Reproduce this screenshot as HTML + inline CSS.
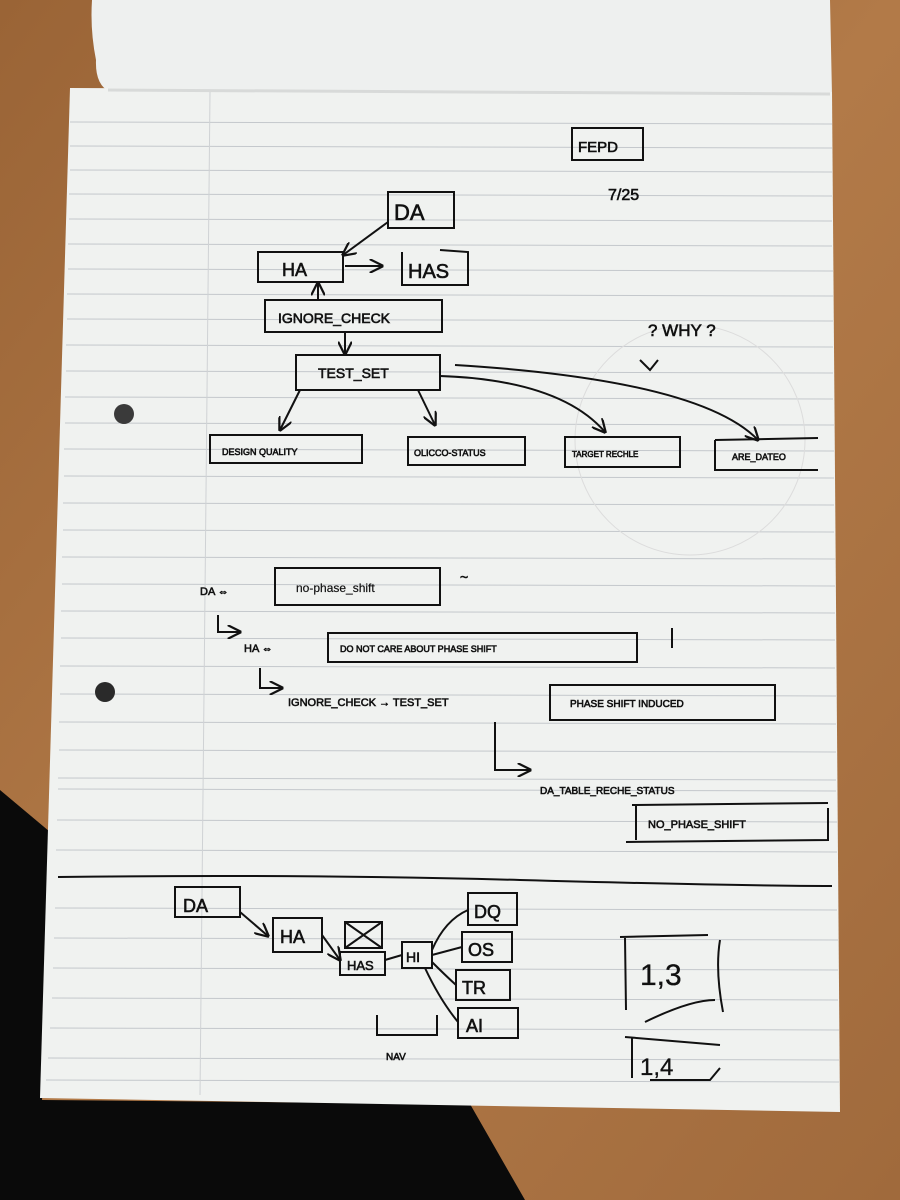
<!DOCTYPE html>
<html><head><meta charset="utf-8"><style>
html,body{margin:0;padding:0;width:900px;height:1200px;overflow:hidden;background:#a8703f}
svg{display:block}
.h{font-family:"Liberation Sans",sans-serif;fill:#111;stroke:#111;stroke-width:0.6}
</style></head><body>
<svg width="900" height="1200" viewBox="0 0 900 1200" xmlns="http://www.w3.org/2000/svg">
<defs>
<linearGradient id="wood" x1="0" y1="0" x2="1" y2="1">
<stop offset="0" stop-color="#9a6436"/><stop offset="0.5" stop-color="#b27a48"/><stop offset="1" stop-color="#a06a3c"/>
</linearGradient>
<marker id="ar" viewBox="0 0 10 10" refX="9" refY="5" markerWidth="7" markerHeight="7" orient="auto"><path d="M0,0 L10,5 L0,10" fill="none" stroke="#111" stroke-width="1.6"/></marker>
</defs>
<rect width="900" height="1200" fill="url(#wood)"/>
<!-- dark region -->
<polygon points="0,790 62,842 42,1100 470,1104 525,1200 0,1200" fill="#0a0a0a"/>
<!-- pad curl top -->
<path d="M92,0 L830,0 L832,95 L110,92 Q95,85 96,60 Q90,30 92,0Z" fill="#eef0ef"/>
<!-- main paper -->
<polygon points="70,88 832,92 840,1112 40,1098" fill="#f0f2f0"/>
<path d="M108,90 L830,94" stroke="#d8dad9" stroke-width="3"/>
<!-- ruled lines -->
<g stroke="#c4c8cc" stroke-width="1">
<line x1="70" y1="122" x2="832" y2="124"/><line x1="70" y1="146" x2="832" y2="148"/><line x1="70" y1="170" x2="832" y2="172"/><line x1="69" y1="194" x2="832" y2="196"/><line x1="69" y1="219" x2="832" y2="221"/><line x1="68" y1="244" x2="832" y2="246"/><line x1="68" y1="269" x2="833" y2="271"/><line x1="67" y1="294" x2="833" y2="296"/><line x1="67" y1="319" x2="833" y2="321"/><line x1="66" y1="345" x2="833" y2="347"/><line x1="66" y1="371" x2="833" y2="373"/><line x1="65" y1="397" x2="833" y2="399"/><line x1="65" y1="423" x2="834" y2="425"/><line x1="64" y1="449" x2="834" y2="451"/><line x1="64" y1="476" x2="834" y2="478"/><line x1="63" y1="503" x2="834" y2="505"/><line x1="63" y1="530" x2="834" y2="532"/><line x1="62" y1="557" x2="835" y2="559"/><line x1="62" y1="584" x2="835" y2="586"/><line x1="61" y1="611" x2="835" y2="613"/><line x1="61" y1="638" x2="835" y2="640"/><line x1="60" y1="666" x2="835" y2="668"/><line x1="60" y1="694" x2="836" y2="696"/><line x1="59" y1="722" x2="836" y2="724"/><line x1="59" y1="750" x2="836" y2="752"/><line x1="58" y1="778" x2="836" y2="780"/><line x1="58" y1="789" x2="836" y2="791"/><line x1="57" y1="820" x2="837" y2="822"/><line x1="56" y1="850" x2="837" y2="852"/><line x1="55" y1="908" x2="837" y2="910"/><line x1="54" y1="938" x2="838" y2="940"/><line x1="53" y1="968" x2="838" y2="970"/><line x1="52" y1="998" x2="838" y2="1000"/><line x1="50" y1="1028" x2="839" y2="1030"/><line x1="48" y1="1058" x2="839" y2="1060"/><line x1="46" y1="1080" x2="839" y2="1082"/>
</g>
<line x1="210" y1="92" x2="200" y2="1095" stroke="#cfd2d4" stroke-width="1"/>
<circle cx="124" cy="414" r="10" fill="#3a3a3a"/><circle cx="105" cy="692" r="10" fill="#2a2a2a"/>
<circle cx="690" cy="440" r="115" fill="none" stroke="#dcdcdc" stroke-width="1"/>
<g fill="none" stroke="#111" stroke-width="2">
<rect x="572" y="128" width="71" height="32"/>
<rect x="388" y="192" width="66" height="36"/>
<line x1="388" y1="222" x2="343" y2="255" marker-end="url(#ar)"/>
<rect x="258" y="252" width="85" height="30"/>
<line x1="345" y1="266" x2="382" y2="266" marker-end="url(#ar)"/>
<path d="M402,252 L402,285 L468,285 L468,252 L440,250"/>
<rect x="265" y="300" width="177" height="32"/>
<line x1="318" y1="300" x2="318" y2="283" marker-end="url(#ar)"/>
<line x1="345" y1="332" x2="345" y2="354" marker-end="url(#ar)"/>
<rect x="296" y="355" width="144" height="35"/>
<line x1="300" y1="390" x2="280" y2="430" marker-end="url(#ar)"/>
<line x1="418" y1="390" x2="435" y2="425" marker-end="url(#ar)"/>
<path d="M440,376 Q560,380 605,432" marker-end="url(#ar)"/>
<path d="M455,365 Q700,380 758,440" marker-end="url(#ar)"/>
<rect x="210" y="435" width="152" height="28"/>
<rect x="408" y="437" width="117" height="28"/>
<rect x="565" y="437" width="115" height="30"/>
<path d="M715,440 L715,470 L818,470 M715,440 L818,438"/>
<path d="M640,360 L650,370 L658,360"/>
<rect x="275" y="568" width="165" height="37"/>
<path d="M218,615 L218,632 L240,632" marker-end="url(#ar)"/>
<rect x="328" y="633" width="309" height="29"/>
<line x1="672" y1="628" x2="672" y2="648"/>
<path d="M260,668 L260,688 L282,688" marker-end="url(#ar)"/>
<rect x="550" y="685" width="225" height="35"/>
<path d="M495,722 L495,770 L530,770" marker-end="url(#ar)"/>
<path d="M632,805 L828,803 M636,805 L636,840 M626,842 L828,840 L828,808"/>
<path d="M58,877 Q300,874 520,880 T832,886"/>
<rect x="175" y="887" width="65" height="30"/>
<line x1="240" y1="912" x2="268" y2="936" marker-end="url(#ar)"/>
<rect x="273" y="918" width="49" height="34"/>
<rect x="345" y="922" width="37" height="26"/>
<path d="M345,922 L382,948 M345,948 L382,922"/>
<rect x="340" y="952" width="45" height="23"/>
<line x1="322" y1="935" x2="340" y2="960" marker-end="url(#ar)"/>
<line x1="385" y1="960" x2="402" y2="955"/>
<rect x="402" y="942" width="30" height="26"/>
<rect x="468" y="893" width="49" height="32"/>
<rect x="462" y="932" width="50" height="30"/>
<rect x="456" y="970" width="54" height="30"/>
<rect x="458" y="1008" width="60" height="30"/>
<path d="M432,950 Q445,920 468,910 M432,955 L462,947 M432,962 Q445,975 456,985 M425,968 Q440,1000 458,1022"/>
<path d="M377,1015 L377,1035 L437,1035 L437,1015"/>
<path d="M620,937 L708,935 M625,938 L626,1010 M645,1022 Q690,1000 715,1000 M720,940 Q715,970 723,1012"/>
<path d="M625,1037 L720,1045 M632,1037 L632,1078 M650,1080 L710,1080 L720,1068"/>
</g>
<g class="h">
<text x="578" y="152" font-size="15">FEPD</text>
<text x="608" y="200" font-size="16">7/25</text>
<text x="394" y="220" font-size="22">DA</text>
<text x="282" y="276" font-size="18">HA</text>
<text x="408" y="278" font-size="20">HAS</text>
<text x="278" y="323" font-size="14">IGNORE_CHECK</text>
<text x="318" y="378" font-size="14">TEST_SET</text>
<text x="222" y="455" font-size="9">DESIGN  QUALITY</text>
<text x="414" y="456" font-size="9">OLICCO-STATUS</text>
<text x="572" y="457" font-size="8">TARGET RECHLE</text>
<text x="732" y="460" font-size="9">ARE_DATEO</text>
<text x="648" y="336" font-size="17">? WHY ?</text>
<text x="200" y="595" font-size="11">DA ⇔</text>
<text x="296" y="592" font-size="12" stroke-width="0.2">no-phase_shift</text>
<text x="460" y="582" font-size="14">~</text>
<text x="244" y="652" font-size="11">HA ⇔</text>
<text x="340" y="652" font-size="9">DO NOT CARE  ABOUT   PHASE SHIFT</text>
<text x="288" y="706" font-size="11">IGNORE_CHECK  →  TEST_SET</text>
<text x="570" y="707" font-size="10">PHASE  SHIFT   INDUCED</text>
<text x="540" y="794" font-size="10">DA_TABLE_RECHE_STATUS</text>
<text x="648" y="828" font-size="11">NO_PHASE_SHIFT</text>
<text x="183" y="912" font-size="18">DA</text>
<text x="280" y="943" font-size="18">HA</text>
<text x="347" y="970" font-size="13">HAS</text>
<text x="406" y="962" font-size="14">HI</text>
<text x="474" y="918" font-size="18">DQ</text>
<text x="468" y="956" font-size="18">OS</text>
<text x="462" y="994" font-size="18">TR</text>
<text x="466" y="1032" font-size="18">AI</text>
<text x="386" y="1060" font-size="10">NAV</text>
<text x="640" y="985" font-size="30" stroke-width="0.3">1,3</text>
<text x="640" y="1075" font-size="24" stroke-width="0.3">1,4</text>
</g>
</svg>
</body></html>
